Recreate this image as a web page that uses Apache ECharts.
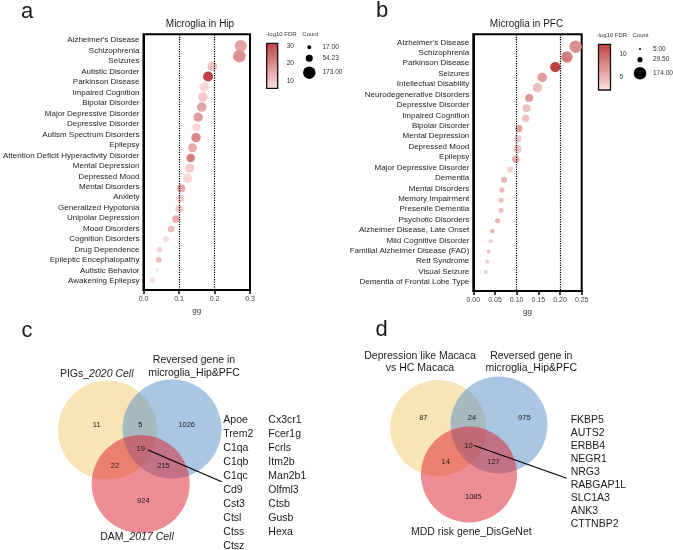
<!DOCTYPE html>
<html><head><meta charset="utf-8">
<script src="https://cdn.jsdelivr.net/npm/echarts@6/dist/echarts.min.js"></script>
<style>html,body{margin:0;padding:0;background:#fff}#c{width:673px;height:550px}</style>
</head><body><div id="c"></div>
<script>
// ---------- Panel a: Microglia in Hip ----------
const catsA = ["Alzheimer's Disease","Schizophrenia","Seizures","Autistic Disorder","Parkinson Disease","Impaired Cognition","Bipolar Disorder","Major Depressive Disorder","Depressive Disorder","Autism Spectrum Disorders","Epilepsy","Attention Deficit Hyperactivity Disorder","Mental Depression","Depressed Mood","Mental Disorders","Anxiety","Generalized Hypotonia","Unipolar Depression","Mood Disorders","Cognition Disorders","Drug Dependence","Epileptic Encephalopathy","Autistic Behavior","Awakening Epilepsy"];
const ggA = [0.274,0.270,0.194,0.182,0.171,0.167,0.164,0.154,0.149,0.148,0.138,0.133,0.130,0.124,0.106,0.104,0.101,0.091,0.078,0.064,0.045,0.043,0.039,0.026];
const countA = [160,173,107,114,100,100,100,95,75,100,87,81,93,100,75,69,69,59,49,40,36,36,17,30];
const fdrA = [16,19,11,31.4,8,10,16,17,8,20,15,22,10,8,15,9,10,15,12,7.5,8.5,12,5.9,8];
const xTicksA = [0, 0.3, 0.1];           // min, max, interval
const refLinesA = [0.1, 0.2];
const cbRangeA = [5.9, 31.4];
const cbTicksA = [10, 20, 30];
const sizeLegendA = [17.00, 54.23, 173.00];

// ---------- Panel b: Microglia in PFC ----------
const catsB = ["Alzheimer's Disease","Schizophrenia","Parkinson Disease","Seizures","Intellectual Disability","Neurodegenerative Disorders","Depressive Disorder","Impaired Cognition","Bipolar Disorder","Mental Depression","Depressed Mood","Epilepsy","Major Depressive Disorder","Dementia","Mental Disorders","Memory Impairment","Presenile Dementia","Psychotic Disorders","Alzheimer Disease, Late Onset","Mild Cognitive Disorder","Familial Alzheimer Disease (FAD)","Rett Syndrome","Visual Seizure","Dementia of Frontal Lobe Type"];
const ggB = [0.236,0.216,0.189,0.159,0.148,0.129,0.123,0.121,0.105,0.103,0.102,0.098,0.085,0.071,0.066,0.064,0.064,0.056,0.044,0.040,0.035,0.032,0.029,0.008];
const countB = [174,140,114,100,100,70,70,59,59,54,75,64,44,40,32,28,28,28,22,19,16,16,14,5];
const fdrB = [7.5,8.5,12.2,6.5,4.5,7,4.5,4.3,6.5,3.8,4,5.5,3.2,5,4.5,4.6,4.6,5.5,5.2,3.8,4.5,4,4.3,2.2];
const xTicksB = [0, 0.25, 0.05];
const refLinesB = [0.1, 0.2];
const cbRangeB = [2.2, 12.2];
const cbTicksB = [5, 10];
const sizeLegendB = [5.00, 29.50, 174.00];

// ---------- Panel c Venn ----------
const vennCTitles = ["PIGs_", "2020 Cell", "Reversed gene in", "microglia_Hip&PFC", "DAM_", "2017 Cell"];
const vennCCounts = [11, 5, 1026, 19, 22, 215, 924]; // Y only, Y∩B, B only, all, Y∩R, B∩R, R only
const genesC1 = ["Apoe","Trem2","C1qa","C1qb","C1qc","Cd9","Cst3","Ctsl","Ctss","Ctsz"];
const genesC2 = ["Cx3cr1","Fcer1g","Fcrls","Itm2b","Man2b1","Olfml3","Ctsb","Gusb","Hexa"];

// ---------- Panel d Venn ----------
const vennDTitles = ["Depression like Macaca", "vs HC Macaca", "Reversed gene in", "microglia_Hip&PFC", "MDD risk gene_DisGeNet"];
const vennDCounts = [87, 24, 975, 10, 14, 127, 1085];
const genesD = ["FKBP5","AUTS2","ERBB4","NEGR1","NRG3","RABGAP1L","SLC1A3","ANK3","CTTNBP2"];

const FONT = "'Liberation Sans', Arial, Helvetica, sans-serif";
const K = 0.95;
const LIGHT = '#fde4e4', DARK = '#bd4141';

const chart = echarts.init(document.getElementById('c'), null, {renderer: 'canvas'});

function idx(n){ return Array.from({length:n}, (_, i) => i); }

function xAxisCfg(gi, t, dec){
  return {
    type:'value', gridIndex: gi, min: t[0], max: t[1], interval: t[2], position:'bottom',
    name: 'gg', nameLocation: 'middle', nameGap: 17,
    nameTextStyle: {fontSize: 8, color:'#333', fontFamily: FONT},
    axisLine: {show:true, onZero:false, lineStyle:{color:'#000', width:2}},
    axisTick: {show:true, length:4, lineStyle:{color:'#000', width:1.5}},
    axisLabel: {fontSize: 7, color:'#444', margin: 6, fontFamily: FONT, formatter: v => v.toFixed(dec)},
    splitLine: {show:false}
  };
}
function labelAxis(gi, cats, min, max){
  return {
    type:'value', gridIndex: gi, inverse: true, min, max, position:'left',
    axisLine: {show:true, onZero:false, lineStyle:{color:'#000', width:2}},
    axisTick: {show:false},
    splitLine: {show:false},
    axisLabel: {fontSize: 8, color:'#222', margin: 4, fontFamily: FONT,
      customValues: idx(cats.length), formatter: v => cats[Math.round(v)] || ''}
  };
}
function dotAxis(gi, min, max){
  return {type:'value', gridIndex: gi, inverse:true, min, max, show:false, splitLine:{show:false}};
}
function cbAxis(gi, range, ticks, pos, showLabel){
  return {
    type:'value', gridIndex: gi, min: range[0], max: range[1], position: pos,
    axisLine: {show:false},
    axisTick: {show:true, inside:true, length:2, customValues: ticks, lineStyle:{color:'#000', width:1}},
    axisLabel: {show: showLabel, fontSize: 6.5, color:'#333', margin: 9, fontFamily: FONT, customValues: ticks},
    splitLine: {show:false}
  };
}
function cbSeries(gi, range){
  return {
    type:'custom', xAxisIndex: gi, yAxisIndex: 4 + (gi-2)*2, data: [[0, range[0]]], silent:true,
    renderItem: (params, api) => {
      const p0 = api.coord([0, range[1]]);
      const p1 = api.coord([1, range[0]]);
      return {type:'rect', shape:{x:p0[0], y:p0[1], width:p1[0]-p0[0], height:p1[1]-p0[1]},
        style:{fill: new echarts.graphic.LinearGradient(0,0,0,1,[{offset:0,color:DARK},{offset:1,color:LIGHT}]),
          stroke:'#111', lineWidth:1.3}};
    }
  };
}
function scatterSeries(gi, yi, gg, cnt, fdr, refs){
  return {
    type:'scatter', xAxisIndex: gi, yAxisIndex: yi,
    data: gg.map((g,i) => [g, i, cnt[i], fdr[i]]),
    symbolSize: d => K*Math.sqrt(d[2]),
    itemStyle: {opacity: 1},
    markLine: {silent:true, symbol:'none', label:{show:false},
      lineStyle:{type:'dotted', color:'#000', width:1.2},
      data: refs.map(r => ({xAxis: r}))},
    z: 3
  };
}

const graphics = [];
function txt(x, y, text, size, opts){
  graphics.push(Object.assign({type:'text', x, y, silent:true, style: Object.assign({text, fontSize:size, fill:'#1a1a1a', fontFamily:FONT, align:'center', verticalAlign:'middle'}, (opts||{}).style||{})}, opts && opts.z ? {z: opts.z} : {}));
}
// panel letters
txt(27, 12, 'a', 22); txt(382, 11, 'b', 22); txt(27, 331, 'c', 22); txt(381.5, 330, 'd', 22);
// titles
txt(200, 24, 'Microglia in Hip', 10); txt(526.5, 24, 'Microglia in PFC', 10);
// legend headers
txt(266, 34.3, '-log10 FDR', 6, {style:{align:'left', fill:'#333'}});
txt(302.3, 34.3, 'Count', 6, {style:{align:'left', fill:'#333'}});
txt(596.5, 35, '-log10 FDR', 6, {style:{align:'left', fill:'#333'}});
txt(632.5, 35, 'Count', 6, {style:{align:'left', fill:'#333'}});
// size legends
const sizeLegYA = [47.3, 58.3, 72.7], sizeLegYB = [49, 59.7, 73.3];
sizeLegendA.forEach((v,i) => {
  graphics.push({type:'circle', silent:true, shape:{cx:309.3, cy:sizeLegYA[i], r:K*Math.sqrt(v)/2}, style:{fill:'#000'}});
  txt(322.5, sizeLegYA[i], v.toFixed(2), 6.5, {style:{align:'left', fill:'#333'}});
});
sizeLegendB.forEach((v,i) => {
  graphics.push({type:'circle', silent:true, shape:{cx:640, cy:sizeLegYB[i], r:K*Math.sqrt(v)/2}, style:{fill:'#000'}});
  txt(653, sizeLegYB[i], v.toFixed(2), 6.5, {style:{align:'left', fill:'#333'}});
});

// Venn circles
const YEL = 'rgba(243,201,111,0.5)', BLU = 'rgba(83,141,199,0.5)', RED = 'rgba(221,27,39,0.5)';
function circ(cx, cy, r, fill){ graphics.push({type:'circle', silent:true, shape:{cx, cy, r}, style:{fill}}); }
circ(107.5, 430, 49.5, YEL); circ(172, 429, 49.5, BLU); circ(140.7, 484, 49, RED);
circ(438.3, 428, 48, YEL); circ(499, 425, 48.5, BLU); circ(469, 474.5, 48, RED);

// Venn c counts
const posC = [[96.7,425],[140.3,425],[186.7,425],[140.7,449],[115,466],[163.5,466],[143.3,501]];
vennCCounts.forEach((v,i) => txt(posC[i][0], posC[i][1], String(v), 7.5));
const posD = [[423.3,418],[472,418],[524.3,418],[468.5,445.5],[445.7,461.5],[493.5,461.5],[473.3,497]];
vennDCounts.forEach((v,i) => txt(posD[i][0], posD[i][1], String(v), 7.5));

// Venn titles
txt(96.7, 374, '{n|' + vennCTitles[0] + '}{i|' + vennCTitles[1] + '}', 10.5, {style:{rich:{n:{fontSize:10.5, fontFamily:FONT, fill:'#1a1a1a'}, i:{fontSize:10.5, fontFamily:FONT, fontStyle:'italic', fill:'#1a1a1a'}}}});
txt(194, 360, vennCTitles[2], 10.5);
txt(194, 373.3, vennCTitles[3], 10.5);
txt(137, 536.7, '{n|' + vennCTitles[4] + '}{i|' + vennCTitles[5] + '}', 10.5, {style:{rich:{n:{fontSize:10.5, fontFamily:FONT, fill:'#1a1a1a'}, i:{fontSize:10.5, fontFamily:FONT, fontStyle:'italic', fill:'#1a1a1a'}}}});
txt(420, 355.7, vennDTitles[0], 10.5);
txt(420, 368.3, vennDTitles[1], 10.5);
txt(531.3, 355.7, vennDTitles[2], 10.5);
txt(531.3, 368.3, vennDTitles[3], 10.5);
txt(471.3, 531.7, vennDTitles[4], 10.5);

// gene lists
genesC1.forEach((g,i) => txt(223.3, 420 + i*14, g, 10.5, {style:{align:'left'}}));
genesC2.forEach((g,i) => txt(268.3, 420 + i*14, g, 10.5, {style:{align:'left'}}));
genesD.forEach((g,i) => txt(570.7, 420 + i*13.04, g, 10.5, {style:{align:'left'}}));

// connector lines
graphics.push({type:'line', silent:true, shape:{x1:148, y1:450, x2:221.7, y2:481.7}, style:{stroke:'#000', lineWidth:1.2}});
graphics.push({type:'line', silent:true, shape:{x1:474.3, y1:445.5, x2:566.7, y2:478.3}, style:{stroke:'#000', lineWidth:1.2}});

const option = {
  animation: false,
  backgroundColor: '#fff',
  textStyle: {fontFamily: FONT},
  grid: [
    {left:143, top:34.3, width:107, height:255.7, show:true, borderColor:'#000', borderWidth:2, backgroundColor:'transparent'},
    {left:473.3, top:34.3, width:108.4, height:256.7, show:true, borderColor:'#000', borderWidth:2, backgroundColor:'transparent'},
    {left:266.7, top:43.3, width:11, height:45},
    {left:598.5, top:44.3, width:12, height:45.7}
  ],
  xAxis: [
    xAxisCfg(0, xTicksA, 1),
    xAxisCfg(1, xTicksB, 2),
    {type:'value', gridIndex:2, min:0, max:1, show:false},
    {type:'value', gridIndex:3, min:0, max:1, show:false}
  ],
  yAxis: [
    labelAxis(0, catsA, -0.573, 23.86),
    dotAxis(0, -1.15, 23.98),
    labelAxis(1, catsB, -0.77, 23.85),
    dotAxis(1, -1.21, 23.86),
    cbAxis(2, cbRangeA, cbTicksA, 'left', false),
    cbAxis(2, cbRangeA, cbTicksA, 'right', true),
    cbAxis(3, cbRangeB, cbTicksB, 'left', false),
    cbAxis(3, cbRangeB, cbTicksB, 'right', true)
  ],
  visualMap: [
    {show:false, type:'continuous', seriesIndex:0, dimension:3, min:cbRangeA[0], max:cbRangeA[1], inRange:{color:[LIGHT, DARK]}},
    {show:false, type:'continuous', seriesIndex:1, dimension:3, min:cbRangeB[0], max:cbRangeB[1], inRange:{color:[LIGHT, DARK]}}
  ],
  series: [
    scatterSeries(0, 1, ggA, countA, fdrA, refLinesA),
    scatterSeries(1, 3, ggB, countB, fdrB, refLinesB),
    cbSeries(2, cbRangeA),
    cbSeries(3, cbRangeB)
  ],
  graphic: graphics
};
chart.setOption(option);
</script>
</body></html>
